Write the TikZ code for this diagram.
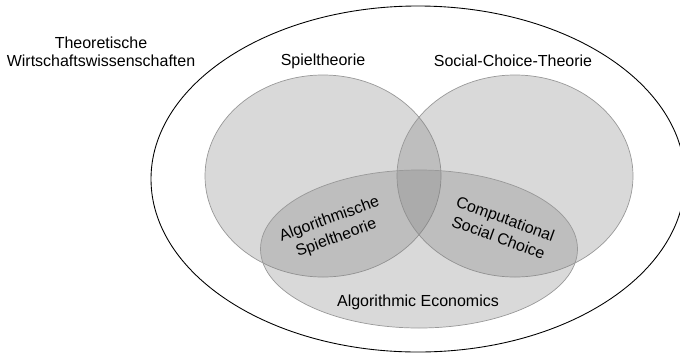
\documentclass[tikz,border=0pt]{standalone}
\usepackage{fontspec}
\setmainfont{Liberation Sans}
\tikzset{
  field/.style={draw=black!40, fill=black!50, fill opacity=0.3},
  lbl/.style={font=\fontsize{9.1}{10.4}\selectfont, align=center},
  tilted/.style={lbl, font=\fontsize{9.1}{11.4}\selectfont}
}
\begin{document}
\begin{tikzpicture}
\useasboundingbox (0,0) rectangle (13.6,7.06);
\clip (0,0) rectangle (13.6,7.06);
% outer field
\draw[line width=0.5pt] (8.36,3.48) ellipse [x radius=5.34, y radius=3.46];
% the three areas
\draw[field] (6.46,3.54) ellipse [x radius=2.36, y radius=2.02];
\draw[field] (10.30,3.54) ellipse [x radius=2.36, y radius=2.02];
\draw[field] (8.38,2.08) ellipse [x radius=3.17, y radius=1.58];
% labels
\node[lbl] (wiwi) at (2.02,6.02) {Theoretische\\Wirtschaftswissenschaften};
\node[lbl] (spiel) at (6.46,5.84) {Spieltheorie};
\node[lbl] (sct) at (10.26,5.84) {Social-Choice-Theorie};
\node[tilted, rotate=20] (agt) at (6.66,2.48) {Algorithmische\\Spieltheorie};
\node[tilted, rotate=-20] (comsoc) at (10.04,2.50) {Computational\\Social Choice};
\node[lbl] (algecon) at (8.36,1.02) {Algorithmic Economics};
\end{tikzpicture}
\end{document}
